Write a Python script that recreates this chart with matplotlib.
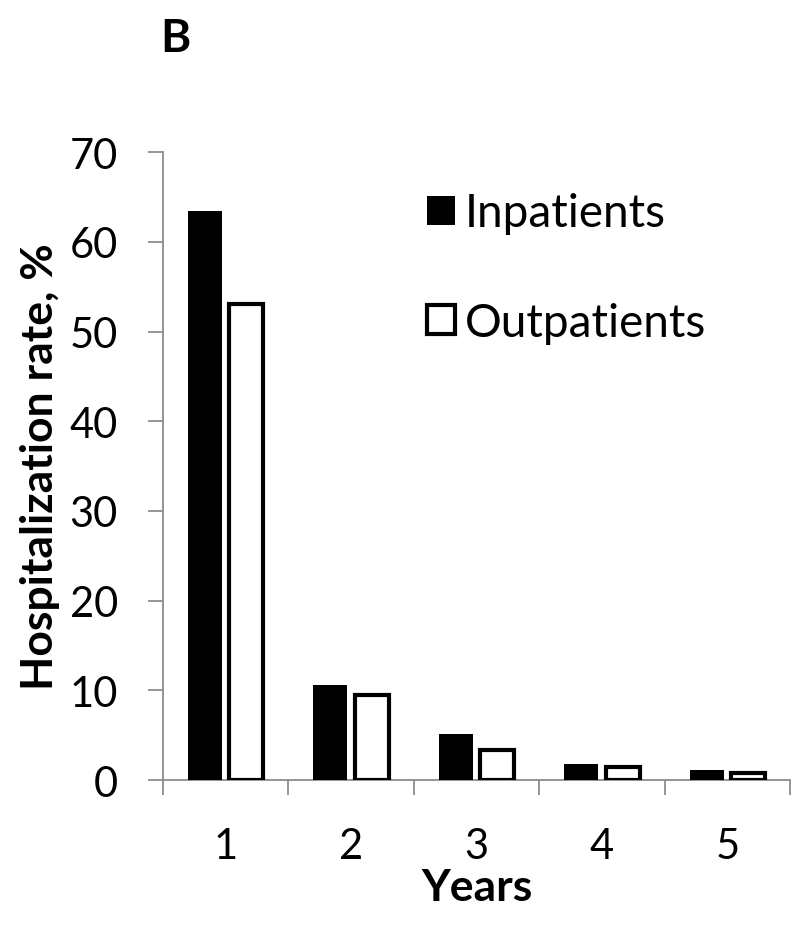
import matplotlib
matplotlib.use("Agg")
import matplotlib.pyplot as plt
import numpy as np
from matplotlib.patches import Patch

years = ["1", "2", "3", "4", "5"]
inpatients = [63.4, 10.6, 5.1, 1.75, 1.15]
outpatients = [53.1, 9.5, 3.3, 1.4, 0.8]
yticks = [0, 10, 20, 30, 40, 50, 60, 70]

plt.rcParams['font.family'] = ['Lato', 'DejaVu Sans']

fig = plt.figure(figsize=(7.94, 9.28), dpi=100)
ax = fig.add_axes([0.2053, 0.1584, 0.7897, 0.6766])

x = np.arange(len(years))
w = 0.27
off = 0.165
ax.bar(x - off, inpatients, width=w, color='black', edgecolor='black', linewidth=0, label='Inpatients', zorder=3)
ax.bar(x + off, outpatients, width=w, color='white', edgecolor='black', linewidth=3.0, label='Outpatients', zorder=3)

ax.set_xlim(-0.5, len(years) - 0.5)
ax.set_ylim(0, 70)
ax.set_yticks(yticks)
ax.set_yticklabels([str(t) for t in yticks], fontsize=30)
ax.set_xticks(x)
ax.set_xticklabels(years, fontsize=30)
ax.set_xticks(np.arange(-0.5, len(years)), minor=True)
ax.tick_params(axis='x', which='major', length=0, pad=34)
ax.tick_params(axis='x', which='minor', length=11, color='#8c8c8c', width=1.3)
ax.tick_params(axis='y', which='major', length=10.5, color='#8c8c8c', width=1.3, pad=22)

for s in ['top', 'right']:
    ax.spines[s].set_visible(False)
for s in ['left', 'bottom']:
    ax.spines[s].set_color('#8c8c8c')
    ax.spines[s].set_linewidth(1.3)

ax.set_ylabel('Hospitalization rate, %', fontsize=32, fontweight='bold', labelpad=7)
ax.set_xlabel('Years', fontsize=32, fontweight='bold', labelpad=1)

handles = [Patch(facecolor='black', edgecolor='black', linewidth=0),
           Patch(facecolor='white', edgecolor='black', linewidth=3.0)]
leg = ax.legend(handles, ['Inpatients', 'Outpatients'], loc='upper left',
                bbox_to_anchor=(0.421, 0.936), frameon=False, fontsize=33,
                handlelength=0.62, handleheight=0.6, handletextpad=0.2,
                labelspacing=1.47, borderpad=0, borderaxespad=0)

fig.text(0.202, 0.958, 'B', fontsize=33, fontweight='bold', ha='left', va='center')

fig.savefig('out.png', dpi=100)
